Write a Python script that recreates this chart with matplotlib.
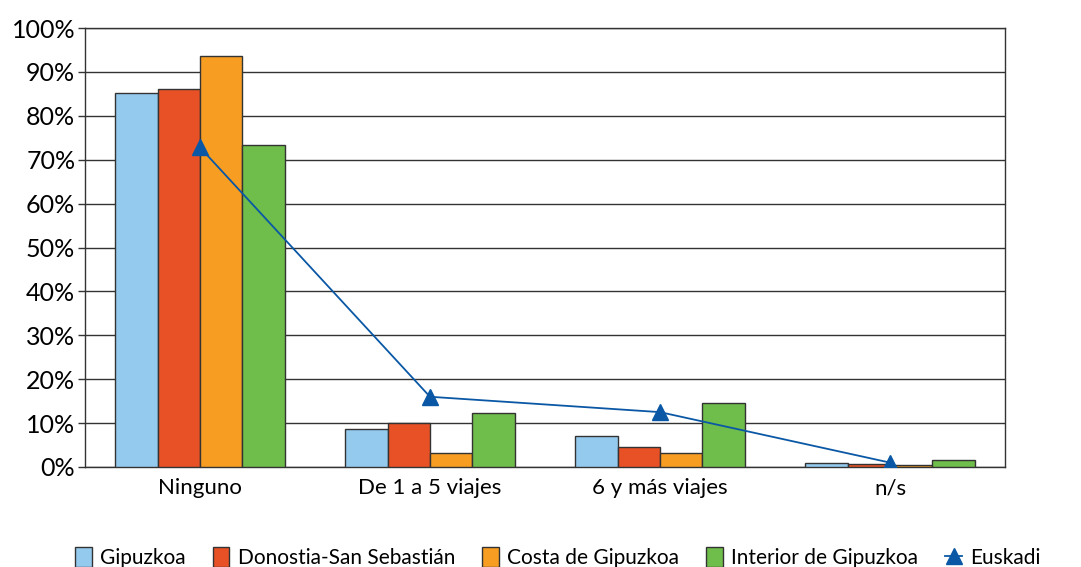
import matplotlib
matplotlib.use("Agg")
import matplotlib.pyplot as plt
import numpy as np
from matplotlib.ticker import FuncFormatter

# ── Data ──────────────────────────────────────────────────────────────────────
categories = ["Ninguno", "De 1 a 5 viajes", "6 y más viajes", "n/s"]
gipuzkoa   = [85.2, 8.7, 7.1, 0.9]
donostia   = [86.1, 10.0, 4.6, 0.7]
costa      = [93.6, 3.2, 3.2, 0.5]
interior   = [73.3, 12.3, 14.6, 1.6]
euskadi    = [72.8, 16.0, 12.5, 1.0]

series = [
    ("Gipuzkoa",               gipuzkoa, "#93CAEE"),
    ("Donostia-San Sebastián", donostia, "#E85125"),
    ("Costa de Gipuzkoa",      costa,    "#F69D22"),
    ("Interior de Gipuzkoa",   interior, "#6FBD4A"),
]

plt.rcParams.update({
    "font.family": ["Lato", "DejaVu Sans"],
    "font.size": 15,
})

fig = plt.figure(figsize=(10.81, 5.67), dpi=100)
ax = fig.add_axes([85 / 1081, 1 - 467 / 567, 920 / 1081, 439 / 567])

x = np.arange(len(categories))
w = 0.184
handles = []
for i, (name, vals, col) in enumerate(series):
    b = ax.bar(x + (i - 1.5) * w, vals, w, color=col, edgecolor="#333333",
               linewidth=1.0, label=name, zorder=3)
    handles.append(b)

line, = ax.plot(x, euskadi, color="#0A58A5", lw=1.3, marker="^", markersize=11,
                label="Euskadi", zorder=4)
handles.append(line)

ax.set_xlim(-0.5, 3.5)
ax.set_ylim(0, 100)
ax.set_yticks(range(0, 101, 10))
ax.yaxis.set_major_formatter(FuncFormatter(lambda v, _: f"{int(v)}%"))
ax.yaxis.grid(True, color="#333333", lw=1.0, zorder=0)
ax.set_xticks(x)
ax.set_xticklabels(categories, fontsize=16)
ax.tick_params(axis="x", length=0, pad=8)
ax.tick_params(axis="y", length=5, width=1, color="#333333", labelsize=18, pad=2)
for s in ax.spines.values():
    s.set_color("#333333")
    s.set_linewidth(1.0)

leg = fig.legend(handles=handles, loc="lower center", bbox_to_anchor=(0.516, -0.035),
                 ncol=5, frameon=False, fontsize=15, handlelength=0.8,
                 handleheight=1.1, handletextpad=0.4, columnspacing=1.3)

fig.savefig("out.png", dpi=100)
